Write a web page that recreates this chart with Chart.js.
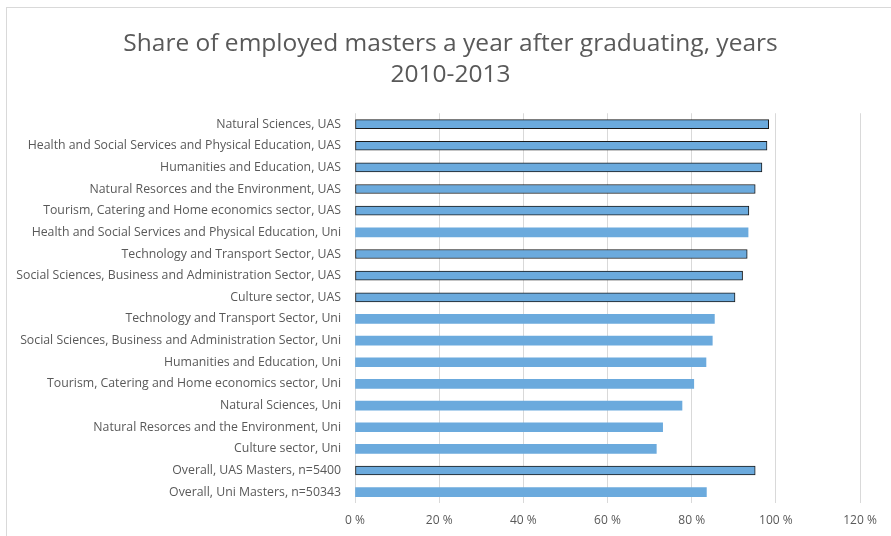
<!DOCTYPE html>
<html>
<head>
<meta charset="utf-8">
<script src="https://cdn.jsdelivr.net/npm/chart.js@4/dist/chart.umd.min.js"></script>
<style>
  body { margin: 0; background: #fff; }
  #frame { position: absolute; left: 6px; top: 7px; width: 900px; height: 600px; border: 1px solid #d9d9d9; }
  #wrap { position: absolute; left: 0; top: 0; width: 891px; height: 536px; }
</style>
</head>
<body>
<div id="frame"></div>
<div id="wrap"><canvas id="chart" width="891" height="536"></canvas></div>
<script>
// share of employed masters one year after graduation, %
const categories = [
  "Natural Sciences, UAS",
  "Health and Social Services and Physical Education, UAS",
  "Humanities and Education, UAS",
  "Natural Resorces and the Environment, UAS",
  "Tourism, Catering and Home economics sector, UAS",
  "Health and Social Services and Physical Education, Uni",
  "Technology and Transport Sector, UAS",
  "Social Sciences, Business and Administration Sector, UAS",
  "Culture sector, UAS",
  "Technology and Transport Sector, Uni",
  "Social Sciences, Business and Administration Sector, Uni",
  "Humanities and Education, Uni",
  "Tourism, Catering and Home economics sector, Uni",
  "Natural Sciences, Uni",
  "Natural Resorces and the Environment, Uni",
  "Culture sector, Uni",
  "Overall, UAS Masters, n=5400",
  "Overall, Uni Masters, n=50343",
];
const shares = [98.3, 97.9, 96.7, 95.1, 93.6, 93.4, 93.2, 92.1, 90.3, 85.4, 84.9, 83.4, 80.5, 77.7, 73.1, 71.6, 95.1, 83.5];
const xTicks = [0, 20, 40, 60, 80, 100, 120];

const textColor = "#595959";
const isUas = (i) => categories[i].includes("UAS");

const ctx = document.getElementById("chart").getContext("2d");
new Chart(ctx, {
  type: "bar",
  data: {
    labels: categories,
    datasets: [
      {
        data: shares,
        backgroundColor: "#6BAADD",
        borderColor: "#1a1a1a",
        borderWidth: (c) => (isUas(c.dataIndex) ? 1 : 0),
        borderSkipped: false,
        barThickness: 9,
      },
    ],
  },
  options: {
    indexAxis: "y",
    responsive: false,
    animation: false,
    layout: { padding: { left: 10, right: 0, top: 0, bottom: 0 } },
    plugins: {
      legend: { display: false },
      tooltip: { enabled: false },
      title: {
        display: true,
        text: ["Share of employed masters a year after graduating, years", "2010-2013"],
        color: textColor,
        font: { family: "Open Sans", size: 24.5, weight: "normal", lineHeight: 1.25 },
        padding: { top: 29, bottom: 23 },
      },
    },
    scales: {
      x: {
        min: xTicks[0],
        max: xTicks[xTicks.length - 1],
        afterBuildTicks: (s) => { s.ticks = xTicks.map((v) => ({ value: v })); },
        afterFit: (s) => { s.height = 33; },
        ticks: {
          color: textColor,
          font: { family: "Open Sans", size: 12 },
          padding: 10,
          callback: (v) => v + " %",
        },
        grid: { color: "#d9d9d9", drawTicks: false },
        border: { display: false },
      },
      y: {
        afterFit: (s) => { s.width = 345; },
        ticks: {
          color: textColor,
          font: { family: "Open Sans", size: 12.3 },
          padding: 6,
          autoSkip: false,
        },
        grid: { display: false },
        border: { display: false },
      },
      // empty strip on the right, keeps the plot inside the frame
      yRight: {
        type: "category",
        position: "right",
        afterFit: (s) => { s.width = 31; },
        ticks: { display: false },
        grid: { display: false },
        border: { display: false },
      },
    },
  },
});
</script>
</body>
</html>
